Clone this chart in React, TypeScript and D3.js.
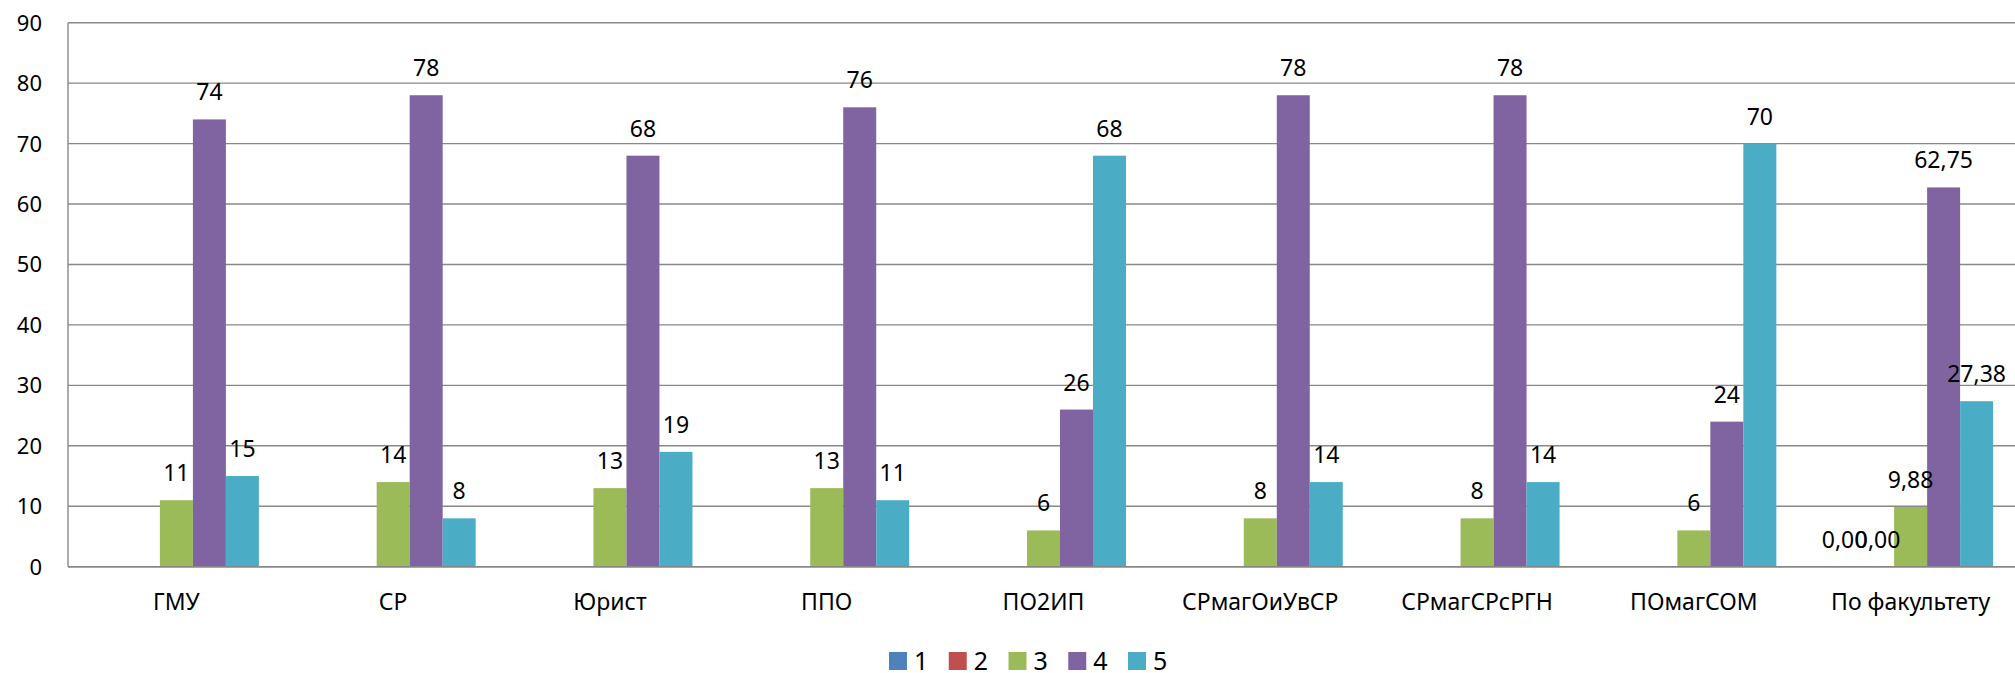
import { useEffect, useRef } from "react"
import * as d3 from "d3"

const categories = [
  "ГМУ",
  "СР",
  "Юрист",
  "ППО",
  "ПО2ИП",
  "СРмагОиУвСР",
  "СРмагСРсРГН",
  "ПОмагСОМ",
  "По факультету",
]

const seriesNames = ["1", "2", "3", "4", "5"]

const series1 = [0, 0, 0, 0, 0, 0, 0, 0, 0]
const series2 = [0, 0, 0, 0, 0, 0, 0, 0, 0]
const series3 = [11, 14, 13, 13, 6, 8, 8, 6, 9.88]
const series4 = [74, 78, 68, 76, 26, 78, 78, 24, 62.75]
const series5 = [15, 8, 19, 11, 68, 14, 14, 70, 27.38]

// decimals used by the value labels of each category (the total row is shown as 0,00)
const labelDigits = [0, 0, 0, 0, 0, 0, 0, 0, 2]

const yTicks = [0, 10, 20, 30, 40, 50, 60, 70, 80, 90]

const colors = ["#4f81bd", "#c0504d", "#9bbb59", "#8064a2", "#4bacc6"]

export default function App() {
  const svgRef = useRef<SVGSVGElement>(null)

  useEffect(() => {
    if (!svgRef.current) return

    const svg = d3.select(svgRef.current)
    svg.selectAll("*").remove()

    const width = 2015
    const height = 673
    const left = 68
    const right = 2019
    const top = 22.7
    const bottom = 566.7
    const font = "'Noto Sans', 'Open Sans', sans-serif"

    svg.attr("width", width).attr("height", height)

    const allSeries = [series1, series2, series3, series4, series5]

    const y = d3.scaleLinear().domain([0, 90]).range([bottom, top])

    const x0 = d3
      .scaleBand<string>()
      .domain(categories)
      .range([left, right])
      .paddingInner(0.2388)
      .paddingOuter(0.1194)

    const x1 = d3
      .scaleBand<string>()
      .domain(seriesNames)
      .range([0, x0.bandwidth()])

    // grid lines
    yTicks.forEach((t) => {
      svg.append("line")
        .attr("x1", left)
        .attr("x2", right)
        .attr("y1", y(t))
        .attr("y2", y(t))
        .style("stroke", "#888888")
        .style("stroke-width", 1.4)
    })

    // value axis line
    svg.append("line")
      .attr("x1", left)
      .attr("x2", left)
      .attr("y1", y(90))
      .attr("y2", y(0))
      .style("stroke", "#888888")
      .style("stroke-width", 1.4)

    // y tick labels
    yTicks.forEach((t) => {
      svg.append("text")
        .attr("x", 42)
        .attr("y", y(t) + 8)
        .attr("text-anchor", "end")
        .style("font-family", font)
        .style("font-size", "22px")
        .style("fill", "#000")
        .text(t)
    })

    // bars
    categories.forEach((cat, ci) => {
      const g = svg.append("g").attr("transform", `translate(${x0(cat)}, 0)`)
      allSeries.forEach((vals, si) => {
        const v = vals[ci]
        if (v <= 0) return
        g.append("rect")
          .attr("x", x1(seriesNames[si])!)
          .attr("y", y(v))
          .attr("width", x1.bandwidth())
          .attr("height", y(0) - y(v))
          .style("fill", colors[si])
      })
    })

    // bottom axis drawn over the bars
    svg.append("line")
      .attr("x1", left)
      .attr("x2", right)
      .attr("y1", y(0))
      .attr("y2", y(0))
      .style("stroke", "#888888")
      .style("stroke-width", 1.6)

    // value labels
    categories.forEach((cat, ci) => {
      const digits = labelDigits[ci]
      allSeries.forEach((vals, si) => {
        const v = vals[ci]
        if (v <= 0 && digits === 0) return
        const cx = x0(cat)! + x1(seriesNames[si])! + x1.bandwidth() / 2
        svg.append("text")
          .attr("x", cx)
          .attr("y", y(v) - 19)
          .attr("text-anchor", "middle")
          .style("font-family", font)
          .style("font-size", "23px")
          .style("fill", "#000")
          .text(v.toFixed(digits).replace(".", ","))
      })
    })

    // category labels
    categories.forEach((cat) => {
      svg.append("text")
        .attr("x", x0(cat)! + x0.bandwidth() / 2)
        .attr("y", 610)
        .attr("text-anchor", "middle")
        .style("font-family", font)
        .style("font-size", "23px")
        .style("fill", "#000")
        .text(cat)
    })

    // legend
    const legendX = 889
    const legendStep = 59.75
    seriesNames.forEach((name, i) => {
      const lx = legendX + i * legendStep
      svg.append("rect")
        .attr("x", lx)
        .attr("y", 652)
        .attr("width", 18)
        .attr("height", 18)
        .style("fill", colors[i])
      svg.append("text")
        .attr("x", lx + 25)
        .attr("y", 670)
        .style("font-family", font)
        .style("font-size", "25px")
        .style("fill", "#000")
        .text(name)
    })
  }, [])

  return (
    <div style={{ position: "absolute", left: 0, top: 0 }}>
      <svg ref={svgRef} style={{ display: "block" }} />
    </div>
  )
}
